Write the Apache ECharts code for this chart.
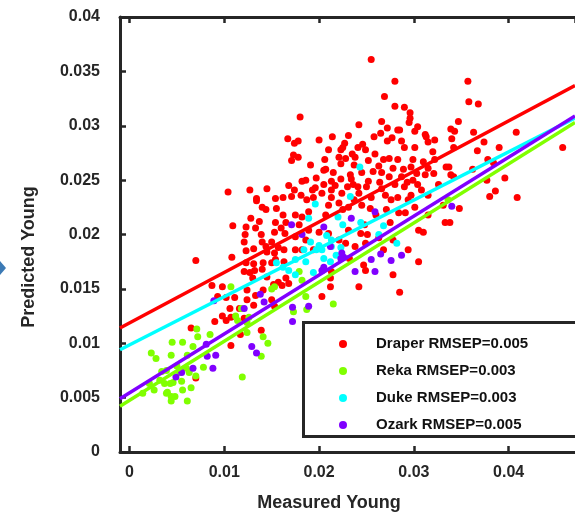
<!DOCTYPE html>
<html><head><meta charset="utf-8">
<script src="https://cdn.jsdelivr.net/npm/echarts@6/dist/echarts.min.js"></script>
<style>html,body{margin:0;padding:0;background:#fff}#c{width:575px;height:515px}</style>
</head><body><div id="c"></div>
<script>
var seriesNames = ['Draper RMSEP=0.005','Reka RMSEP=0.003','Duke RMSEP=0.003','Ozark RMSEP=0.005'];
var xTitle = 'Measured Young';
var yTitle = 'Predicted Young';

var draper = [
[0.0180,0.0308],[0.0167,0.0288],[0.0174,0.0284],[0.0178,0.0286],[0.0173,0.0273],[0.0178,0.0271],[0.0171,0.0268],[0.0104,0.0239],[0.0127,0.0241],[0.0145,0.0242],[0.0168,0.0245],[0.0174,0.0241],[0.0182,0.0249],[0.0186,0.0250],[0.0193,0.0241],[0.0196,0.0243],[0.0181,0.0236],[0.0171,0.0235],[0.0162,0.0234],[0.0154,0.0233],[0.0134,0.0233],[0.0194,0.0234],
[0.0255,0.0361],[0.0280,0.0341],[0.0269,0.0327],[0.0280,0.0318],[0.0290,0.0317],[0.0296,0.0312],[0.0296,0.0307],[0.0266,0.0304],[0.0242,0.0301],[0.0295,0.0303],[0.0304,0.0299],[0.0272,0.0298],[0.0283,0.0296],[0.0285,0.0296],[0.0301,0.0295],[0.0265,0.0293],[0.0258,0.0290],[0.0214,0.0290],[0.0231,0.0291],[0.0312,0.0292],[0.0246,0.0283],[0.0277,0.0289],[0.0272,0.0286],[0.0287,0.0286],[0.0313,0.0290],[0.0315,0.0285],[0.0322,0.0287],[0.0227,0.0284],[0.0225,0.0280],[0.0241,0.0280],[0.0290,0.0280],[0.0301,0.0280],[0.0223,0.0278],[0.0235,0.0274],[0.0259,0.0274],[0.0320,0.0276],[0.0206,0.0269],[0.0221,0.0271],[0.0228,0.0270],[0.0238,0.0271],[0.0252,0.0268],[0.0268,0.0269],[0.0274,0.0270],[0.0283,0.0269],[0.0299,0.0269],[0.0310,0.0267],[0.0322,0.0269],[0.0207,0.0260],[0.0223,0.0265],[0.0237,0.0264],[0.0263,0.0263],[0.0278,0.0261],[0.0289,0.0260],[0.0297,0.0262],[0.0315,0.0261],[0.0205,0.0259],[0.0215,0.0257],[0.0233,0.0255],[0.0245,0.0257],[0.0257,0.0258],[0.0266,0.0257],[0.0274,0.0253],[0.0287,0.0253],[0.0303,0.0256],[0.0312,0.0255],[0.0321,0.0256],[0.0334,0.0262],[0.0213,0.0249],[0.0223,0.0251],[0.0234,0.0251],[0.0252,0.0249],[0.0264,0.0248],[0.0293,0.0248],[0.0304,0.0246],[0.0205,0.0246],[0.0217,0.0245],[0.0230,0.0244],[0.0241,0.0244],[0.0250,0.0244],[0.0266,0.0242],[0.0280,0.0246],[0.0290,0.0244],[0.0308,0.0241],[0.0203,0.0238],[0.0213,0.0234],[0.0224,0.0238],[0.0242,0.0238],[0.0255,0.0234],[0.0270,0.0236],[0.0283,0.0234],[0.0297,0.0236],[0.0213,0.0241],
[0.0357,0.0341],[0.0358,0.0322],[0.0368,0.0320],[0.0347,0.0304],[0.0339,0.0297],[0.0343,0.0295],[0.0363,0.0294],[0.0340,0.0288],[0.0408,0.0294],[0.0374,0.0285],[0.0342,0.0280],[0.0367,0.0277],[0.0390,0.0280],[0.0457,0.0280],[0.0378,0.0269],[0.0384,0.0266],[0.0362,0.0260],[0.0337,0.0262],[0.0339,0.0255],[0.0342,0.0253],[0.0396,0.0252],[0.0377,0.0250],[0.0386,0.0240],[0.0380,0.0235],[0.0409,0.0234],[0.0348,0.0224],[0.0338,0.0211],
[0.0134,0.0231],[0.0140,0.0225],[0.0144,0.0223],[0.0155,0.0224],[0.0162,0.0218],[0.0128,0.0215],[0.0137,0.0212],[0.0154,0.0211],[0.0165,0.0211],[0.0109,0.0208],[0.0123,0.0207],[0.0133,0.0206],[0.0160,0.0206],[0.0153,0.0202],[0.0164,0.0201],[0.0122,0.0200],[0.0139,0.0200],[0.0121,0.0193],[0.0140,0.0193],[0.0150,0.0193],[0.0144,0.0189],[0.0157,0.0188],[0.0163,0.0186],[0.0123,0.0185],[0.0131,0.0187],[0.0145,0.0184],[0.0153,0.0183],[0.0108,0.0179],[0.0070,0.0176],[0.0154,0.0177],[0.0163,0.0175],[0.0123,0.0174],[0.0131,0.0173],[0.0141,0.0174],[0.0150,0.0174],[0.0121,0.0166],[0.0127,0.0165],[0.0132,0.0167],[0.0140,0.0168],[0.0130,0.0160],[0.0145,0.0161],[0.0165,0.0160],[0.0157,0.0156],[0.0152,0.0154],[0.0161,0.0153],[0.0124,0.0149],[0.0087,0.0153],[0.0098,0.0152],[0.0141,0.0149],[0.0133,0.0144],[0.0093,0.0143],[0.0102,0.0142],[0.0111,0.0142],[0.0150,0.0140],[0.0124,0.0140],[0.0106,0.0132],[0.0116,0.0132],[0.0131,0.0135],[0.0153,0.0134],[0.0098,0.0125],[0.0107,0.0124],[0.0090,0.0120],[0.0102,0.0121],[0.0121,0.0123],[0.0065,0.0114],[0.0139,0.0112],[0.0117,0.0108],[0.0107,0.0098],[0.0070,0.0068],
[0.0175,0.0218],[0.0182,0.0216],[0.0189,0.0221],[0.0207,0.0218],[0.0210,0.0227],[0.0221,0.0229],[0.0231,0.0225],[0.0245,0.0227],[0.0254,0.0224],[0.0271,0.0223],[0.0284,0.0220],[0.0291,0.0220],[0.0301,0.0225],[0.0179,0.0209],[0.0189,0.0204],[0.0200,0.0202],[0.0210,0.0201],[0.0231,0.0204],[0.0244,0.0201],[0.0251,0.0200],[0.0175,0.0198],[0.0186,0.0195],[0.0228,0.0192],[0.0238,0.0189],[0.0249,0.0192],[0.0175,0.0186],[0.0182,0.0186],[0.0232,0.0178],[0.0213,0.0166],[0.0249,0.0167],[0.0212,0.0160],[0.0242,0.0152],[0.0212,0.0152],[0.0203,0.0143],[0.0285,0.0147],[0.0305,0.0204],[0.0310,0.0202],[0.0333,0.0211],[0.0168,0.0155],
[0.0191,0.0264],[0.0197,0.0252],[0.0210,0.0278],[0.0187,0.0232],[0.0225,0.0223],[0.0237,0.0232],[0.0260,0.0218],[0.0275,0.0211],[0.0294,0.0232],[0.0315,0.0236],[0.0326,0.0246],[0.0331,0.0227],[0.0248,0.0209],[0.0263,0.0197],[0.0278,0.0195],[0.0315,0.0218],[0.0194,0.0186],[0.0221,0.0195],[0.0268,0.0186],[0.0294,0.0186],[0.0305,0.0175],[0.0247,0.0172],[0.0278,0.0163],[0.0236,0.0246],[0.0276,0.0232],[0.0299,0.0250],[0.0249,0.0278],[0.0200,0.0287]
];
var reka = [
[0.0107,0.0152],[0.0150,0.0150],[0.0153,0.0152],[0.0118,0.0132],[0.0112,0.0125],[0.0114,0.0121],[0.0124,0.0119],[0.0126,0.0124],[0.0071,0.0113],[0.0072,0.0106],[0.0045,0.0101],[0.0056,0.0101],[0.0067,0.0097],[0.0124,0.0110],[0.0141,0.0106],[0.0146,0.0100],[0.0139,0.0088],[0.0023,0.0091],[0.0028,0.0086],[0.0044,0.0089],[0.0061,0.0089],[0.0034,0.0074],[0.0039,0.0075],[0.0050,0.0079],[0.0060,0.0077],[0.0063,0.0073],[0.0053,0.0073],[0.0078,0.0078],[0.0037,0.0063],[0.0043,0.0063],[0.0046,0.0064],[0.0055,0.0065],[0.0056,0.0057],[0.0065,0.0059],[0.0039,0.0054],[0.0044,0.0051],[0.0048,0.0051],[0.0061,0.0047],[0.0044,0.0047],[0.0119,0.0069],[0.0021,0.0063],[0.0014,0.0054],[0.0070,0.0070],[0.0179,0.0166],[0.0182,0.0158],[0.0186,0.0143],[0.0215,0.0136],[0.0187,0.0131],[0.0173,0.0129],[0.0336,0.0232],[0.0040,0.0055],[0.0085,0.0108],[0.0032,0.0066],[0.0026,0.0057]
];
var duke = [
[0.0243,0.0262],[0.0233,0.0235],[0.0155,0.0174],[0.0162,0.0170],[0.0196,0.0228],[0.0189,0.0215],[0.0220,0.0216],[0.0225,0.0209],[0.0244,0.0211],[0.0268,0.0208],[0.0263,0.0200],[0.0282,0.0192],[0.0191,0.0193],[0.0200,0.0190],[0.0197,0.0186],[0.0203,0.0186],[0.0213,0.0195],[0.0213,0.0189],[0.0223,0.0188],[0.0175,0.0177],[0.0186,0.0175],[0.0205,0.0178],[0.0212,0.0175],[0.0194,0.0165],[0.0175,0.0163],[0.0168,0.0167],[0.0208,0.0199],[0.0218,0.0181],[0.0184,0.0186]
];
var ozark = [
[0.0089,0.0139],[0.0138,0.0145],[0.0142,0.0138],[0.0121,0.0132],[0.0081,0.0099],[0.0082,0.0088],[0.0091,0.0089],[0.0129,0.0097],[0.0134,0.0091],[0.0067,0.0077],[0.0088,0.0077],[0.0055,0.0073],[0.0049,0.0069],[0.0171,0.0209],[0.0182,0.0200],[0.0205,0.0207],[0.0234,0.0215],[0.0259,0.0221],[0.0212,0.0189],[0.0224,0.0183],[0.0223,0.0178],[0.0226,0.0179],[0.0205,0.0170],[0.0203,0.0167],[0.0265,0.0182],[0.0255,0.0177],[0.0276,0.0176],[0.0287,0.0181],[0.0238,0.0166],[0.0259,0.0166],[0.0172,0.0133],[0.0189,0.0134],[0.0172,0.0120],[0.0340,0.0226]
];
// regression lines: endpoints [measured, predicted]
var draperFit = [[-0.001,0.0114],[0.047,0.0337]];
var rekaFit = [[-0.001,0.0042],[0.047,0.0303]];
var dukeFit = [[-0.001,0.0094],[0.047,0.0307]];
var ozarkFit = [[-0.001,0.0049],[0.047,0.0309]];

var colors = ['#ff0000','#80ff00','#00ffff','#8000ff'];
var axisColor = '#262626';
var FONT = 'Liberation Sans, Arial, sans-serif';

var chart = echarts.init(document.getElementById('c'), null, {renderer:'canvas'});
function scat(name, data, color){
  return {name:name, type:'scatter', data:data, symbol:'circle', symbolSize:7,
    itemStyle:{color:color, opacity:1}, z:2, silent:true, animation:false};
}
function fit(data, color){
  return {type:'line', data:data, symbol:'none', lineStyle:{color:color, width:3.5},
    z:3, silent:true, animation:false};
}
function xLabelFmt(v){
  var r = Math.round(v*100)/100;
  if (Math.abs(v - r) > 1e-7) return '';
  return String(r);
}
var option = {
  animation:false,
  grid:{left:120, top:17, width:457, height:435, containLabel:false},
  xAxis:[{
    type:'value', min:-0.001, max:0.047, splitNumber:5,
    axisLine:{show:true, onZero:false, lineStyle:{color:axisColor, width:3}},
    axisTick:{show:true, inside:true, length:6, lineStyle:{color:axisColor, width:2.5}},
    axisLabel:{show:true, margin:13, color:axisColor, fontSize:16, fontWeight:'bold', fontFamily:FONT,
      showMinLabel:false, showMaxLabel:false, formatter:xLabelFmt},
    splitLine:{show:false}
  },{
    type:'value', position:'top', min:-0.001, max:0.047, splitNumber:5,
    axisLine:{show:true, onZero:false, lineStyle:{color:axisColor, width:3}},
    axisTick:{show:true, inside:true, length:6, lineStyle:{color:axisColor, width:2.5}},
    axisLabel:{show:false}, splitLine:{show:false}
  }],
  yAxis:[{
    type:'value', min:0, max:0.04, interval:0.005,
    axisLine:{show:true, onZero:false, lineStyle:{color:axisColor, width:3}},
    axisTick:{show:true, inside:true, length:6, lineStyle:{color:axisColor, width:2.5}},
    axisLabel:{show:true, margin:20, color:axisColor, fontSize:16, fontWeight:'bold', fontFamily:FONT,
      padding:[0,0,6,0]},
    splitLine:{show:false}
  }],
  legend:{
    show:true, orient:'vertical', left:334, top:330, itemGap:9,
    itemWidth:8, itemHeight:8, icon:'circle', z:10,
    data:seriesNames,
    textStyle:{color:'#111', fontSize:15, fontWeight:'bold', fontFamily:FONT, lineHeight:18, padding:[0,0,0,24]}
  },
  graphic:[
    {type:'rect', z:8, shape:{x:303.5, y:322.5, width:300, height:114},
      style:{fill:'#fff', stroke:axisColor, lineWidth:3}},
    {type:'text', z:8, x:329, y:503, style:{text:xTitle, fill:axisColor, font:'bold 18px '+FONT,
      textAlign:'center', textVerticalAlign:'middle'}},
    {type:'text', z:8, x:29, y:257, rotation:Math.PI/2, style:{text:yTitle, fill:axisColor, font:'bold 18px '+FONT,
      textAlign:'center', textVerticalAlign:'middle'}},
    {type:'polygon', z:8, shape:{points:[[0,261],[6,268],[0,275]]}, style:{fill:'#3c7ab5'}}
  ],
  series:[
    scat(seriesNames[0], draper, colors[0]),
    scat(seriesNames[1], reka, colors[1]),
    scat(seriesNames[2], duke, colors[2]),
    scat(seriesNames[3], ozark, colors[3]),
    fit(draperFit, colors[0]),
    fit(rekaFit, colors[1]),
    fit(dukeFit, colors[2]),
    fit(ozarkFit, colors[3])
  ]
};
chart.setOption(option);
</script></body></html>
